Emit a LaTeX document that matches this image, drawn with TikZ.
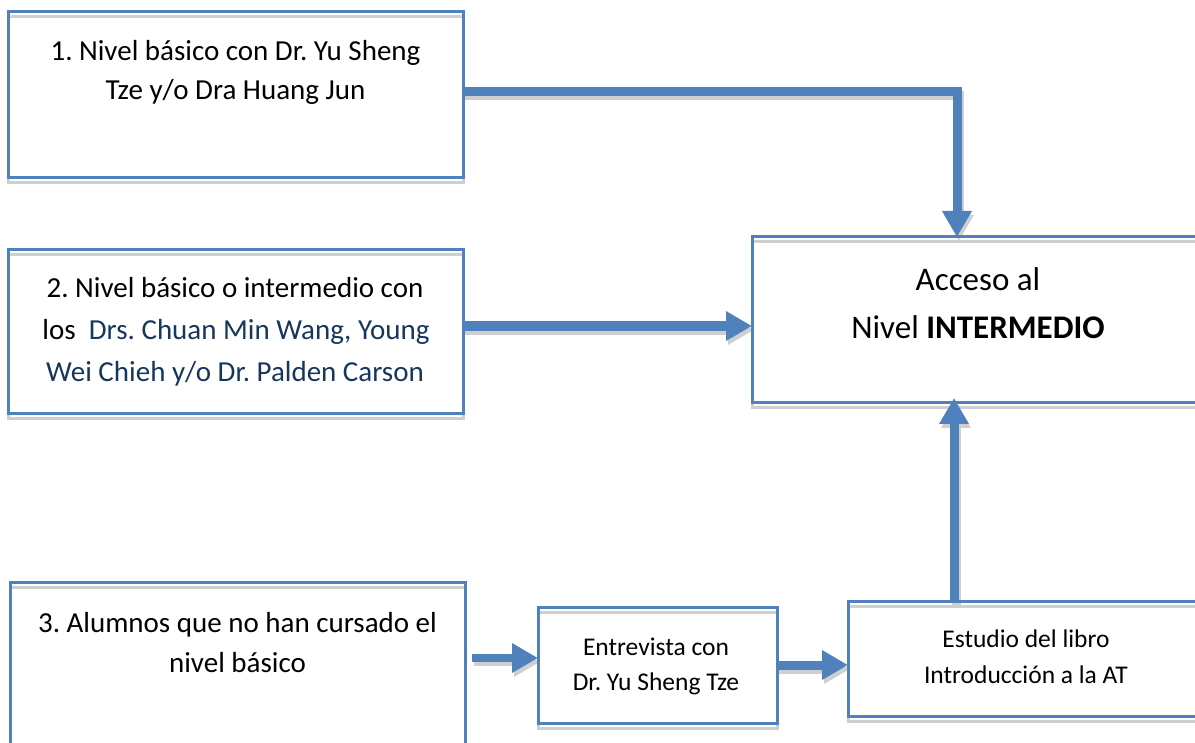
\documentclass[tikz,border=0pt]{standalone}
\usepackage{fontspec}
\setmainfont{Carlito}
\usetikzlibrary{arrows.meta,calc,backgrounds}
\definecolor{wblue}{HTML}{4F81BD}
\definecolor{shadowgray}{HTML}{CFCFCF}
\definecolor{navy}{HTML}{17365D}
\frenchspacing
\begin{document}
\begin{tikzpicture}[x=1pt,y=-1pt,
  box/.style={draw=wblue, line width=3pt, rectangle, inner sep=0pt, outer sep=0pt},
  boxshadow/.style={draw=shadowgray, line width=3pt},
  big/.style={anchor=base, inner sep=0pt, font=\fontsize{29}{35}\selectfont},
  huge/.style={anchor=base, inner sep=0pt, font=\fontsize{33}{40}\selectfont},
  small/.style={anchor=base, inner sep=0pt, font=\fontsize{25.5}{31}\selectfont},
  arr/.style={draw=wblue, line width=9pt, line join=miter, -{Triangle[length=26pt,width=28pt]}},
  arrshadow/.style={arr, draw=shadowgray}]
\useasboundingbox (0,0) rectangle (1195,743);
\clip (0,0) rectangle (1195,743);

% boxes
\node[box, minimum width=455pt, minimum height=166pt] (b1) at (235.5,95) {};
\node[box, minimum width=455pt, minimum height=164pt] (b2) at (235.5,332) {};
\node[box, minimum width=452pt, minimum height=166pt] (acc) at (978,320) {};
\node[box, minimum width=455pt, minimum height=188pt] (b3) at (237.5,676) {};
\node[box, minimum width=239pt, minimum height=116pt] (ent) at (657.5,665) {};
\node[box, minimum width=356pt, minimum height=115pt] (est) at (1026,658.5) {};

% texts
\node[big] (t1a) at (235.5,61) {1. Nivel básico con Dr. Yu Sheng};
\node[big] (t1b) at (235.5,100) {Tze y/o Dra Huang Jun};
\node[big] (t2a) at (235,298) {2. Nivel básico o intermedio con};
\node[big] (t2b) at (236,340) {los\ \ \textcolor{navy}{Drs. Chuan Min Wang, Young}};
\node[big, text=navy] (t2c) at (235,382) {Wei Chieh y/o Dr. Palden Carson};
\node[huge] (ta) at (978,291) {Acceso al};
\node[huge] (tb) at (978,339) {Nivel \textbf{INTERMEDIO}};
\node[big] (t3a) at (237.5,632) {3. Alumnos que no han cursado el};
\node[big] (t3b) at (237.5,672) {nivel básico};
\node[small] (tea) at (656,655) {Entrevista con};
\node[small] (teb) at (656,690) {Dr. Yu Sheng Tze};
\node[small] (tsa) at (1026,647) {Estudio del libro};
\node[small] (tsb) at (1026,683) {Introducción a la AT};

% connector end points
\coordinate (a1s) at ([yshift=3pt]b1.east);
\coordinate (a1e) at ([xshift=-21pt]acc.north);
\coordinate (a2s) at ([yshift=6pt]b2.east);
\coordinate (c3) at (472,658);
\coordinate (a4s) at ([xshift=-72pt]est.north);

% connectors
\draw[arr] (a1s) -| (a1e);
\draw[arr, line width=10pt] (a2s) -- (a2s -| acc.west);
\draw[arr, line width=8pt] (c3) -- (c3 -| ent.west);
\draw[arr] (ent.east) -- (ent.east -| est.west);
\draw[arr, shorten >=-5pt] (a4s) -- (a4s |- acc.south);

% shadows
\begin{scope}[on background layer]
  \foreach \n in {b1,b2,acc,b3,ent,est}
    \draw[boxshadow] ([yshift=-5pt]\n.north west) rectangle ([yshift=-5pt]\n.south east);
  \begin{scope}[transform canvas={shift={(2,4)}}]
    \draw[arrshadow] (a1s) -| (a1e);
    \draw[arrshadow, line width=10pt] (a2s) -- (a2s -| acc.west);
    \draw[arrshadow, line width=8pt] (c3) -- (c3 -| ent.west);
    \draw[arrshadow] (ent.east) -- (ent.east -| est.west);
    \draw[arrshadow, shorten >=-5pt] (a4s) -- (a4s |- acc.south);
  \end{scope}
\end{scope}
\end{tikzpicture}
\end{document}
